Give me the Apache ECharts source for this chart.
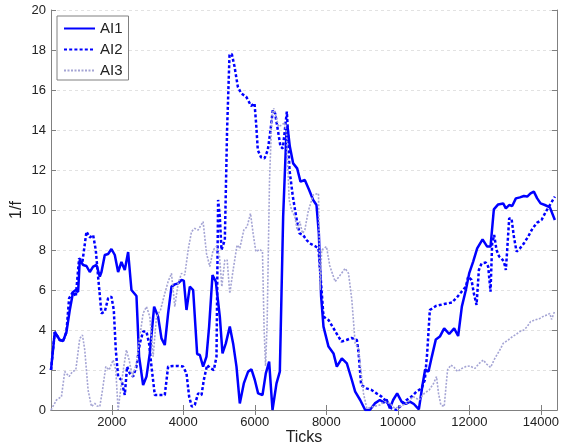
<!DOCTYPE html>
<html>
<head>
<meta charset="utf-8">
<script src="https://cdn.jsdelivr.net/npm/echarts@6/dist/echarts.min.js"></script>
<style>
  html, body { margin: 0; padding: 0; background: #fff; }
  #chart { width: 562px; height: 445px; }
</style>
</head>
<body>
<div id="chart"></div>
<script>
// tick positions on the x axis
const xTicks = [2000, 4000, 6000, 8000, 10000, 12000, 14000];

// AI1, solid line: [tick, 1/f]
const ai1 = [
    [300, 2.0], [406, 3.9], [545, 3.5], [638, 3.45], [732, 3.9], [825, 5.0], [918, 5.9], [993, 6.0],
    [1058, 5.9], [1105, 7.5], [1198, 7.25], [1292, 7.2], [1385, 6.9], [1478, 7.17], [1572, 7.25],
    [1665, 6.67], [1711, 6.9], [1804, 7.75], [1897, 7.8], [1990, 8.05], [2084, 7.75], [2177, 6.9],
    [2270, 7.4], [2363, 7.0], [2457, 7.9], [2550, 6.0], [2690, 5.7], [2764, 2.67], [2876, 1.25],
    [2970, 1.67], [3063, 2.83], [3184, 5.17], [3295, 4.67], [3389, 3.58], [3482, 3.25], [3575, 4.83],
    [3669, 6.17], [3762, 6.28], [3855, 6.33], [3949, 6.5], [4014, 6.47], [4089, 5.0], [4182, 6.17],
    [4275, 6.0], [4387, 2.8], [4462, 2.75], [4554, 2.17], [4648, 2.67], [4722, 4.17], [4816, 6.75],
    [4909, 6.42], [5021, 4.67], [5096, 2.83], [5189, 3.33], [5300, 4.17], [5393, 3.33], [5487, 2.17],
    [5580, 0.33], [5692, 1.33], [5812, 1.92], [5906, 2.03], [6000, 1.5], [6092, 0.83], [6214, 0.75],
    [6307, 1.83], [6400, 2.42], [6494, 0], [6606, 1.33], [6699, 1.92], [6792, 9.67], [6886, 14.0],
    [6914, 14.17], [6979, 13.17], [7072, 12.33], [7183, 12.08], [7277, 11.42], [7398, 11.5],
    [7519, 11.0], [7631, 10.5], [7724, 10.25], [7790, 8.83], [7854, 5.67], [7920, 4.17], [8060, 3.17],
    [8200, 2.83], [8293, 2.17], [8433, 2.58], [8573, 2.33], [8713, 1.5], [8806, 0.92], [8946, 0.5],
    [9085, 0], [9216, 0], [9356, 0.33], [9496, 0.5], [9616, 0.37], [9683, 0.53], [9775, 0.08],
    [9868, 0.5], [9980, 0.83], [10103, 0.42], [10224, 0.3], [10335, 0.42], [10447, 0.3], [10587, 0.03],
    [10689, 1.25], [10763, 2.03], [10857, 1.92], [10950, 2.67], [11062, 3.53], [11174, 3.67],
    [11295, 4.08], [11435, 3.8], [11574, 4.08], [11686, 3.7], [11789, 5.17], [11901, 6.0],
    [11994, 6.83], [12106, 7.42], [12218, 8.08], [12368, 8.53], [12497, 8.17], [12591, 8.17],
    [12684, 10.03], [12805, 10.28], [12945, 10.33], [13020, 10.08], [13113, 10.25], [13197, 10.2],
    [13300, 10.58], [13412, 10.63], [13524, 10.7], [13617, 10.67], [13710, 10.83], [13803, 10.92],
    [13896, 10.58], [13990, 10.33], [14111, 10.25], [14251, 10.13], [14390, 9.5]
];

// AI2, dotted blue line
const ai2 = [
    [300, 2.0], [406, 3.9], [545, 3.5], [638, 3.45], [732, 3.9], [806, 5.58], [918, 5.92], [993, 5.67],
    [1086, 7.58], [1180, 7.42], [1292, 8.92], [1385, 8.63], [1478, 8.75], [1552, 8.0], [1617, 6.67],
    [1711, 4.83], [1804, 4.92], [1897, 5.58], [1990, 5.67], [2056, 5.0], [2112, 3.0], [2177, 1.67],
    [2270, 1.5], [2363, 0.75], [2428, 2.17], [2503, 1.83], [2596, 1.67], [2690, 2.17], [2783, 3.33],
    [2876, 3.92], [2970, 3.92], [3043, 3.33], [3110, 2.17], [3203, 0.75], [3343, 0.75], [3482, 0.75],
    [3575, 2.17], [3715, 2.2], [3855, 2.2], [3995, 2.17], [4089, 1.83], [4163, 0.67], [4238, 0.17],
    [4321, 0.25], [4415, 0.83], [4509, 0.75], [4573, 1.5], [4666, 2.25], [4760, 2.08], [4853, 2.0],
    [4928, 2.67], [4973, 10.5], [5021, 9.67], [5068, 8.0], [5113, 8.25], [5161, 8.5], [5224, 14.0],
    [5292, 17.75], [5356, 17.8], [5432, 17.17], [5524, 16.17], [5617, 15.83], [5757, 15.67],
    [5896, 15.2], [5991, 15.33], [6036, 14.33], [6083, 13.0], [6176, 12.63], [6271, 12.58],
    [6363, 13.0], [6439, 14.0], [6503, 15.0], [6568, 14.83], [6643, 14.0], [6718, 13.17],
    [6783, 13.08], [6830, 13.83], [6895, 14.92], [6923, 14.0], [6970, 12.0], [7063, 10.67],
    [7155, 9.67], [7250, 8.83], [7351, 8.75], [7445, 8.5], [7538, 8.33], [7678, 8.2], [7780, 8.08],
    [7873, 5.83], [7920, 4.67], [8060, 4.5], [8172, 4.17], [8284, 3.83], [8423, 3.42], [8563, 3.5],
    [8703, 3.6], [8853, 3.5], [8899, 2.9], [8973, 1.25], [9123, 1.08], [9263, 1.0], [9403, 0.83],
    [9542, 0.67], [9683, 0.42], [9822, 0.08], [9962, 0], [10103, 0.25], [10243, 0.5], [10382, 0.67],
    [10522, 0.92], [10662, 1.08], [10754, 1.5], [10819, 2.83], [10894, 5.0], [11062, 5.2],
    [11295, 5.3], [11510, 5.37], [11669, 5.67], [11901, 6.17], [11966, 6.67], [12060, 6.5],
    [12125, 5.83], [12200, 5.25], [12265, 7.0], [12340, 7.33], [12461, 7.37], [12526, 7.17],
    [12591, 5.92], [12637, 8.33], [12693, 8.75], [12759, 8.0], [12833, 7.67], [12898, 7.58],
    [12964, 7.42], [13020, 7.0], [13057, 8.0], [13113, 9.58], [13178, 9.58], [13244, 8.67],
    [13319, 7.92], [13412, 8.08], [13524, 8.33], [13644, 8.67], [13766, 9.08], [13896, 9.37],
    [14018, 9.5], [14139, 9.92], [14251, 10.25], [14391, 10.67]
];

// AI3, light dotted line
const ai3 = [
    [300, 0], [341, 0], [453, 0.5], [592, 0.67], [685, 1.92], [806, 1.67], [900, 1.92], [993, 2.0],
    [1105, 3.58], [1180, 3.75], [1244, 3.0], [1337, 1.0], [1432, 0.17], [1524, 0.33], [1589, 0.2],
    [1665, 0.17], [1740, 1.0], [1832, 2.17], [1925, 2.0], [2037, 2.5], [2112, 2.0], [2177, 0],
    [2270, 1.33], [2335, 2.17], [2410, 3.0], [2485, 2.5], [2578, 1.67], [2690, 2.33], [2783, 3.67],
    [2876, 4.83], [2970, 5.17], [3063, 4.67], [3156, 2.67], [3250, 4.67], [3362, 5.0], [3482, 5.83],
    [3575, 6.42], [3669, 6.83], [3762, 5.17], [3855, 6.33], [3949, 6.83], [4041, 6.75], [4135, 8.0],
    [4229, 8.92], [4321, 9.08], [4415, 9.0], [4554, 9.42], [4648, 7.83], [4741, 7.17], [4834, 8.0],
    [4928, 8.17], [5012, 7.67], [5077, 6.17], [5161, 7.5], [5226, 7.5], [5300, 5.83], [5393, 7.0],
    [5503, 8.25], [5580, 8.08], [5692, 9.0], [5784, 9.17], [5879, 9.83], [5952, 8.83], [6028, 7.92],
    [6139, 8.03], [6214, 7.92], [6260, 4.0], [6300, 2.2], [6344, 4.33], [6411, 11.5], [6475, 14.67],
    [6531, 15.08], [6596, 14.67], [6662, 14.17], [6755, 14.25], [6830, 14.37], [6886, 13.83],
    [6960, 10.5], [7026, 10.0], [7119, 9.67], [7184, 9.0], [7258, 9.42], [7333, 8.83], [7398, 9.0],
    [7491, 9.92], [7631, 10.75], [7780, 10.83], [7826, 6.0], [7870, 8.0], [8004, 8.17], [8097, 7.2],
    [8246, 6.42], [8423, 6.83], [8525, 7.08], [8620, 6.83], [8713, 5.5], [8806, 3.33], [8899, 3.08],
    [9039, 0.83], [9131, 0.08], [9309, 0.17], [9496, 0.25], [9636, 0.42], [9775, 0.33], [9915, 0.08],
    [10055, 0.17], [10243, 0.33], [10427, 0.67], [10595, 0.5], [10735, 0.83], [10876, 1.0],
    [10998, 1.33], [11081, 1.67], [11137, 0.83], [11202, 0.25], [11295, 0.17], [11389, 2.0],
    [11482, 2.25], [11574, 2.13], [11669, 1.92], [11789, 2.08], [11901, 2.17], [12013, 2.2],
    [12153, 2.08], [12274, 2.33], [12386, 2.5], [12480, 2.3], [12591, 2.13], [12712, 2.58],
    [12852, 3.0], [12945, 3.33], [13085, 3.5], [13207, 3.67], [13319, 3.8], [13412, 3.92],
    [13524, 4.0], [13617, 4.17], [13710, 4.42], [13831, 4.5], [13971, 4.58], [14083, 4.7],
    [14176, 4.75], [14251, 4.83], [14297, 4.53], [14391, 4.97]
];

const font = 'Liberation Sans, Arial, Helvetica, sans-serif';
const axisGray = '#808080';
const textColor = '#222';

const myChart = echarts.init(document.getElementById('chart'), null, { renderer: 'canvas' });

// shared tick style for the box frame (MATLAB-like inside ticks)
const tickStyle = { show: true, inside: true, length: 5, lineStyle: { color: axisGray, width: 1 } };
const lineStyle = { show: true, lineStyle: { color: axisGray, width: 1 } };

const option = {
    animation: false,
    backgroundColor: '#fff',
    textStyle: { fontFamily: font },
    grid: { left: 51, top: 10, width: 506, height: 400, show: false, containLabel: false, outerBoundsMode: 'none' },
    legend: {
        left: 57,
        top: 16,
        orient: 'vertical',
        itemWidth: 31,
        itemHeight: 14,
        itemGap: 6,
        padding: [5, 6, 2, 6],
        borderColor: axisGray,
        borderWidth: 1,
        backgroundColor: '#fff',
        itemStyle: { opacity: 0 },
        textStyle: { fontFamily: font, fontSize: 15, color: textColor },
        data: ['AI1', 'AI2', 'AI3'],
    },
    xAxis: [
        {
            type: 'value',
            min: 300,
            max: 14450,
            name: 'Ticks',
            nameLocation: 'middle',
            nameGap: 20,
            nameMoveOverlap: false,
            nameTextStyle: { fontFamily: font, fontSize: 16, color: textColor },
            axisLine: lineStyle,
            axisTick: { ...tickStyle, customValues: xTicks },
            axisLabel: {
                customValues: xTicks,
                formatter: v => String(v),
                fontFamily: font, fontSize: 13, color: textColor, margin: 6
            },
            splitLine: { show: false },
        },
        {
            type: 'value',
            position: 'top',
            min: 300,
            max: 14450,
            axisLine: lineStyle,
            axisTick: { ...tickStyle, customValues: xTicks },
            axisLabel: { show: false, customValues: xTicks },
            splitLine: { show: false },
        },
    ],
    yAxis: [
        {
            type: 'value',
            min: 0,
            max: 20,
            interval: 2,
            name: '1/f',
            nameLocation: 'middle',
            nameGap: 26,
            nameMoveOverlap: false,
            nameTextStyle: { fontFamily: font, fontSize: 16, color: textColor },
            axisLine: lineStyle,
            axisTick: tickStyle,
            axisLabel: { fontFamily: font, fontSize: 13, color: textColor, margin: 5 },
            splitLine: { show: true, lineStyle: { color: '#e2e2e2', type: [3, 3], width: 1 } },
        },
        {
            type: 'value',
            position: 'right',
            min: 0,
            max: 20,
            interval: 2,
            axisLine: lineStyle,
            axisTick: tickStyle,
            axisLabel: { show: false },
            splitLine: { show: false },
        },
    ],
    series: [
        {
            name: 'AI1',
            type: 'line',
            data: ai1,
            showSymbol: false,
            symbol: 'none',
            lineStyle: { color: '#0000ff', width: 2.5, type: 'solid' },
            itemStyle: { color: '#0000ff' },
        },
        {
            name: 'AI2',
            type: 'line',
            data: ai2,
            showSymbol: false,
            symbol: 'none',
            lineStyle: { color: '#0000ff', width: 2.5, type: [3, 2.2] },
            itemStyle: { color: '#0000ff' },
        },
        {
            name: 'AI3',
            type: 'line',
            data: ai3,
            showSymbol: false,
            symbol: 'none',
            lineStyle: { color: '#a4a4d4', width: 1.6, type: [2, 1.5] },
            itemStyle: { color: '#a4a4d4' },
        },
    ],
};
myChart.setOption(option);
</script>
</body>
</html>
